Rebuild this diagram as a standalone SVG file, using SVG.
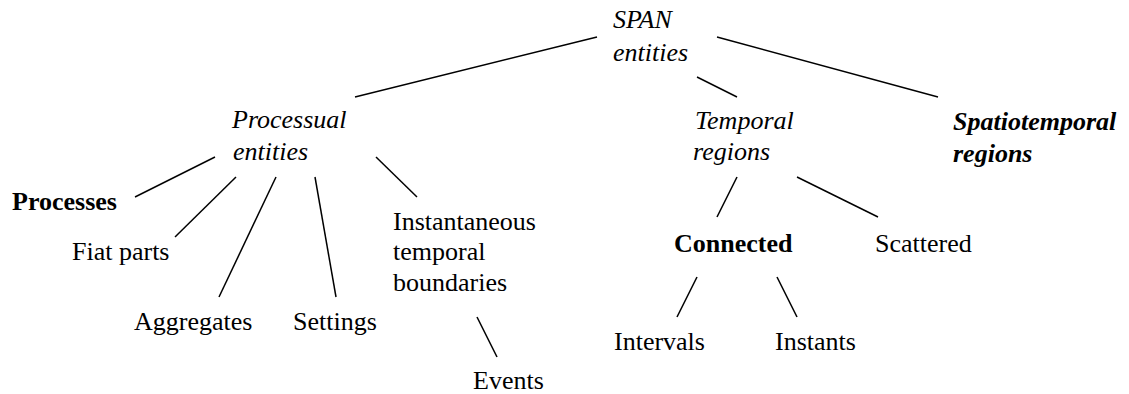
<svg xmlns="http://www.w3.org/2000/svg" width="1129" height="394" viewBox="0 0 1129 394">
<style>
.n text{font-family:'Liberation Serif','Times New Roman',Tinos,serif;font-size:26px;fill:#000}
.i{font-style:italic}
.b{font-weight:bold}
#connectors line{stroke:#000;stroke-width:1.5}
</style>
<rect width="1129" height="394" fill="#fff"/>
<g id="connectors">
<line x1="355" y1="97" x2="597" y2="37"/>
<line x1="717" y1="37" x2="938" y2="97"/>
<line x1="697" y1="77" x2="737" y2="97"/>
<line x1="215" y1="157" x2="135" y2="197"/>
<line x1="236" y1="177" x2="175" y2="237"/>
<line x1="276" y1="177" x2="219" y2="297"/>
<line x1="315" y1="177" x2="336" y2="297"/>
<line x1="376" y1="157" x2="417" y2="197"/>
<line x1="477" y1="317" x2="497" y2="357"/>
<line x1="737" y1="177" x2="717" y2="217"/>
<line x1="797" y1="177" x2="878" y2="217"/>
<line x1="697" y1="277" x2="677" y2="317"/>
<line x1="777" y1="277" x2="797" y2="317"/>
</g>
<g id="span" class="n"><text class="i" font-family="Times New Roman" x="613" y="28">SPAN</text><text class="i" font-family="Times New Roman" x="613" y="61">entities</text></g>
<g id="processual" class="n"><text class="i" font-family="Times New Roman" x="232" y="128">Processual</text><text class="i" font-family="Times New Roman" x="233" y="160">entities</text></g>
<g id="temporal" class="n"><text class="i" font-family="Times New Roman" x="695" y="129">Temporal</text><text class="i" font-family="Times New Roman" x="693" y="160">regions</text></g>
<g id="spatiotemporal" class="n"><text class="i b" font-family="Times New Roman" x="953" y="130">Spatiotemporal</text><text class="i b" font-family="Times New Roman" x="953" y="162">regions</text></g>
<g id="processes" class="n"><text class="b" font-family="Times New Roman" x="12" y="210">Processes</text></g>
<g id="fiat" class="n"><text font-family="Times New Roman" x="72" y="260">Fiat parts</text></g>
<g id="aggregates" class="n"><text font-family="Times New Roman" x="134" y="330">Aggregates</text></g>
<g id="settings" class="n"><text font-family="Times New Roman" x="293" y="330">Settings</text></g>
<g id="instantaneous" class="n"><text font-family="Times New Roman" x="393" y="230">Instantaneous</text><text font-family="Times New Roman" x="393" y="260">temporal</text><text font-family="Times New Roman" x="393" y="291">boundaries</text></g>
<g id="events" class="n"><text font-family="Times New Roman" x="473" y="389">Events</text></g>
<g id="connected" class="n"><text class="b" font-family="Times New Roman" x="674" y="252">Connected</text></g>
<g id="scattered" class="n"><text font-family="Times New Roman" x="875" y="252">Scattered</text></g>
<g id="intervals" class="n"><text font-family="Times New Roman" x="614" y="350">Intervals</text></g>
<g id="instants" class="n"><text font-family="Times New Roman" x="775" y="350">Instants</text></g>
</svg>
